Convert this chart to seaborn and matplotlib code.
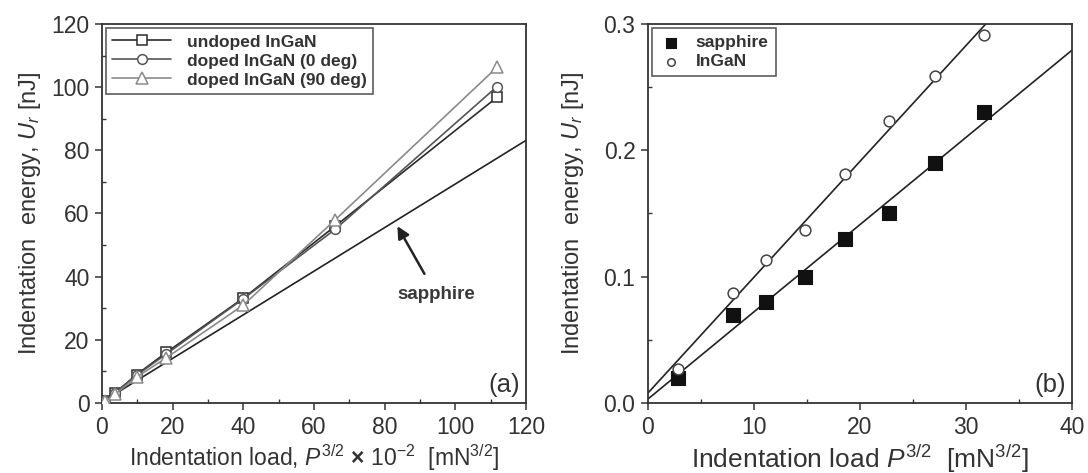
import numpy as np
import pandas as pd
import matplotlib
matplotlib.use("Agg")
import matplotlib.pyplot as plt
from matplotlib.ticker import MultipleLocator, FormatStrFormatter
import seaborn as sns

# ---- panel (a): indentation energy vs. load (P^3/2 x 1e-2) ----
load_a = [0.9, 3.7, 9.8, 18.2, 40.0, 66.0, 111.8]
undoped = [0.5, 3.2, 9.0, 16.0, 33.2, 56.0, 96.8]
doped_0 = [0.5, 3.2, 8.8, 15.5, 33.0, 55.0, 100.2]
doped_90 = [0.5, 2.8, 8.2, 14.3, 31.0, 58.0, 106.3]

# ---- panel (b): low-load data ----
load_b = [2.8, 8.0, 11.15, 14.8, 18.6, 22.7, 27.1, 31.7]
sapphire_b = [0.020, 0.070, 0.080, 0.100, 0.130, 0.150, 0.190, 0.230]
ingan_b = [0.027, 0.087, 0.113, 0.137, 0.181, 0.223, 0.259, 0.291]

sns.set_style("ticks")
plt.rcParams["font.family"] = ["Liberation Sans", "DejaVu Sans"]
plt.rcParams["mathtext.fontset"] = "custom"
plt.rcParams["mathtext.rm"] = "Liberation Sans"
plt.rcParams["mathtext.it"] = "Liberation Sans:italic"
plt.rcParams["mathtext.bf"] = "Liberation Sans:bold"

INK = "#333333"
plt.rcParams.update({
    "axes.edgecolor": INK, "axes.linewidth": 1.3,
    "xtick.color": INK, "ytick.color": INK,
    "text.color": INK, "axes.labelcolor": INK,
})

fig = plt.figure(figsize=(10.88, 4.73), dpi=100)
W, H = 1088, 473
ax1 = fig.add_axes([102 / W, (H - 403) / H, 424 / W, 379 / H])
ax2 = fig.add_axes([648 / W, (H - 403) / H, 424 / W, 379 / H])

for ax in (ax1, ax2):
    ax.tick_params(which="major", direction="out", length=5, width=1.1,
                   labelsize=16.5, pad=4)
    ax.tick_params(which="minor", direction="in", length=3, width=1.0)

# sapphire fit from the low-load data, rescaled to the x 1e-2 load units
sl_s, ic_s = np.polyfit(load_b, sapphire_b, 1)

# ---- panel (a) ----
ax1.set_xlim(0, 120)
ax1.set_ylim(0, 120)
series_a = [
    ("undoped InGaN", undoped, "s", "#2b2b2b"),
    ("doped InGaN (0 deg)", doped_0, "o", "#555555"),
    ("doped InGaN (90 deg)", doped_90, "^", "#8a8a8a"),
]
for name, vals, mk, col in series_a:
    sns.lineplot(x=load_a, y=vals, ax=ax1, color=col, lw=1.2, marker=mk,
                 markersize=7 if mk != "^" else 8, markerfacecolor="white",
                 markeredgecolor=col, markeredgewidth=1.1, label=name,
                 sort=False, zorder=3)

xs = np.array([0, 120])
sns.lineplot(x=xs, y=(sl_s * xs * 100 + ic_s * 100), ax=ax1, color="#222222",
             lw=1.2, legend=False, zorder=2)

ax1.annotate("sapphire", xy=(83.6, 56.0), xytext=(94.5, 34.5),
             ha="center", va="center", fontsize=13.5, fontweight="bold",
             color="#3a3a3a",
             arrowprops=dict(arrowstyle="-|>", color="#222222", lw=1.8,
                             mutation_scale=18, shrinkA=7, shrinkB=0))

leg1 = ax1.legend(loc="upper left", bbox_to_anchor=(0.0, 1.0),
                  prop=dict(size=12.5, weight="bold"), frameon=True,
                  fancybox=False, edgecolor=INK, handlelength=3.4,
                  handletextpad=0.9, borderpad=0.35, labelspacing=0.22,
                  borderaxespad=0.25)
leg1.get_frame().set_linewidth(1.2)

ax1.xaxis.set_major_locator(MultipleLocator(20))
ax1.xaxis.set_minor_locator(MultipleLocator(10))
ax1.yaxis.set_major_locator(MultipleLocator(20))
ax1.yaxis.set_minor_locator(MultipleLocator(10))
ax1.set_xlabel(r"Indentation load, $P^{3/2}$ $\mathbf{\times}$ 10$^{-2}$  [mN$^{3/2}$]",
               fontsize=16.5, labelpad=3)
ax1.set_ylabel(r"Indentation  energy, $U_r$ [nJ]", fontsize=17)
ax1.yaxis.set_label_coords(-0.14, 0.5)
ax1.text(0.985, 0.015, "(a)", transform=ax1.transAxes, ha="right", va="bottom",
         fontsize=18.5)

# ---- panel (b) ----
ax2.set_xlim(0, 40)
ax2.set_ylim(0, 0.3)
sns.regplot(x=load_b, y=ingan_b, ax=ax2, scatter=False, ci=None,
            truncate=False, line_kws=dict(color="#222222", lw=1.2))
sns.regplot(x=load_b, y=sapphire_b, ax=ax2, scatter=False, ci=None,
            truncate=False, line_kws=dict(color="#222222", lw=1.2))
sns.scatterplot(x=load_b, y=sapphire_b, ax=ax2, marker="s", s=95,
                color="#111111", edgecolor="#111111", label="sapphire",
                zorder=4)
sns.scatterplot(x=load_b, y=ingan_b, ax=ax2, marker="o", s=60,
                facecolor="white", edgecolor="#444444", linewidth=1.1,
                label="InGaN", zorder=4)
ax2.set_xlim(0, 40)
ax2.set_ylim(0, 0.3)

leg2 = ax2.legend(loc="upper left", bbox_to_anchor=(0.0, 1.0),
                  prop=dict(size=12.5, weight="bold"), frameon=True,
                  fancybox=False, edgecolor=INK, handlelength=1.4,
                  handletextpad=0.7, borderpad=0.4, labelspacing=0.22,
                  borderaxespad=0.25, markerscale=0.7)
leg2.get_frame().set_linewidth(1.2)

ax2.xaxis.set_major_locator(MultipleLocator(10))
ax2.xaxis.set_minor_locator(MultipleLocator(5))
ax2.yaxis.set_major_locator(MultipleLocator(0.1))
ax2.yaxis.set_minor_locator(MultipleLocator(0.05))
ax2.yaxis.set_major_formatter(FormatStrFormatter("%.1f"))
ax2.set_xlabel(r"Indentation load $P^{3/2}$  [mN$^{3/2}$]", fontsize=19,
               labelpad=3)
ax2.set_ylabel(r"Indentation  energy, $U_r$ [nJ]", fontsize=17)
ax2.yaxis.set_label_coords(-0.146, 0.5)
ax2.text(0.985, 0.015, "(b)", transform=ax2.transAxes, ha="right", va="bottom",
         fontsize=18.5)

fig.savefig("out.png", dpi=100)
